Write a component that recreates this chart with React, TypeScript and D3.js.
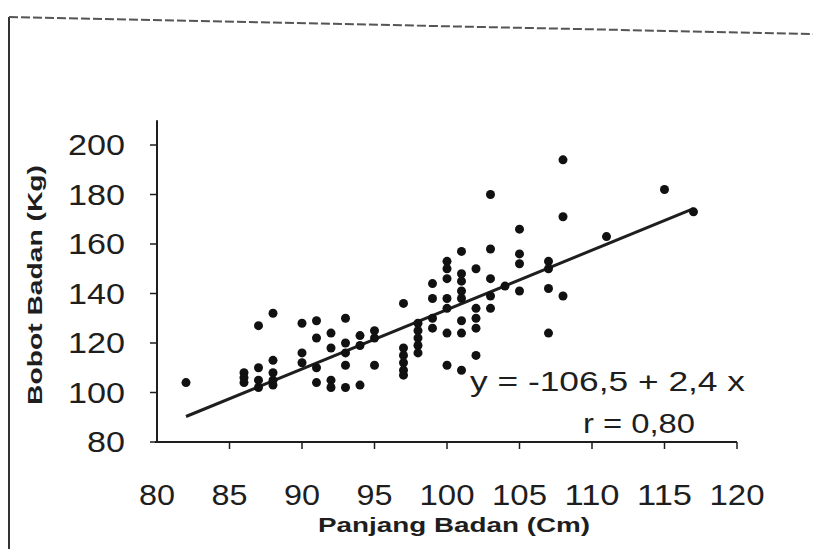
import React, { useEffect, useRef } from 'react';
import * as d3 from 'd3';

// panjang badan (cm) and bobot badan (kg)
const panjang = [
  82,
  86, 86, 86,
  87, 87, 87, 87,
  88, 88, 88, 88, 88,
  90, 90, 90,
  91, 91, 91, 91,
  92, 92, 92, 92,
  93, 93, 93, 93, 93,
  94, 94, 94,
  95, 95, 95,
  97, 97, 97, 97, 97, 97,
  98, 98, 98, 98, 98,
  99, 99, 99, 99,
  100, 100, 100, 100, 100, 100, 100,
  101, 101, 101, 101, 101, 101, 101, 101,
  102, 102, 102, 102, 102,
  103, 103, 103, 103, 103,
  104,
  105, 105, 105, 105,
  107, 107, 107, 107,
  108, 108, 108,
  111, 115, 117,
];
const bobot = [
  104,
  108, 106, 104,
  127, 110, 105, 102,
  132, 113, 108, 105, 103,
  128, 116, 112,
  129, 122, 110, 104,
  124, 118, 105, 102,
  130, 120, 116, 111, 102,
  123, 119, 103,
  125, 122, 111,
  136, 118, 115, 112, 109, 107,
  128, 125, 122, 119, 116,
  144, 138, 130, 126,
  153, 150, 146, 138, 134, 124, 111,
  157, 148, 145, 141, 138, 129, 124, 109,
  150, 134, 130, 126, 115,
  180, 158, 146, 139, 134,
  143,
  166, 156, 152, 141,
  153, 150, 142, 124,
  194, 171, 139,
  163, 182, 173,
];

const xTicks = [80, 85, 90, 95, 100, 105, 110, 115, 120];
const yTicks = [80, 100, 120, 140, 160, 180, 200];
const regA = -106.5;
const regB = 2.4;
const regRange = [82, 117];

const App = () => {
  const ref = useRef<SVGSVGElement>(null);

  useEffect(() => {
    const svg = d3.select(ref.current);
    svg.selectAll('*').remove();

    const font = '"Liberation Sans", Arial, sans-serif';
    const ink = '#1e1e1e';
    // the scan is stretched sideways, so text gets a fixed width per digit
    const digitW = 19;

    const x = d3.scaleLinear().domain([80, 120]).range([157, 737]);
    const y = d3.scaleLinear().domain([80, 200]).range([442, 145]);

    // scan frame
    svg.append('line')
      .attr('x1', 9).attr('y1', 17).attr('x2', 9).attr('y2', 549)
      .attr('stroke', '#333').attr('stroke-width', 2);
    svg.append('line')
      .attr('x1', 9).attr('y1', 17).attr('x2', 813).attr('y2', 34)
      .attr('stroke', '#555').attr('stroke-width', 2)
      .attr('stroke-dasharray', '9 3');

    // axes
    svg.append('line')
      .attr('x1', x(80)).attr('x2', x(80))
      .attr('y1', y(210)).attr('y2', y(80))
      .attr('stroke', ink).attr('stroke-width', 2);
    svg.append('line')
      .attr('x1', x(80) - 2).attr('x2', x(120))
      .attr('y1', y(80)).attr('y2', y(80))
      .attr('stroke', ink).attr('stroke-width', 2);

    svg.selectAll('.ytick')
      .data(yTicks)
      .enter()
      .append('line')
      .attr('x1', x(80) - 7).attr('x2', x(80))
      .attr('y1', (d) => y(d)).attr('y2', (d) => y(d))
      .attr('stroke', ink).attr('stroke-width', 1.5);

    svg.selectAll('.xtick')
      .data(xTicks.slice(1))
      .enter()
      .append('line')
      .attr('x1', (d) => x(d)).attr('x2', (d) => x(d))
      .attr('y1', y(80)).attr('y2', y(80) + 7)
      .attr('stroke', ink).attr('stroke-width', 1.5);

    svg.selectAll('.ylab')
      .data(yTicks)
      .enter()
      .append('text')
      .attr('x', 125)
      .attr('y', (d) => y(d) + 10)
      .attr('text-anchor', 'end')
      .attr('font-family', font)
      .attr('font-size', 29)
      .attr('textLength', (d) => String(d).length * digitW)
      .attr('lengthAdjust', 'spacingAndGlyphs')
      .attr('fill', ink)
      .text((d) => d);

    svg.selectAll('.xlab')
      .data(xTicks)
      .enter()
      .append('text')
      .attr('x', (d) => x(d))
      .attr('y', 505)
      .attr('text-anchor', 'middle')
      .attr('font-family', font)
      .attr('font-size', 29)
      .attr('textLength', (d) => String(d).length * digitW - 2)
      .attr('lengthAdjust', 'spacingAndGlyphs')
      .attr('fill', ink)
      .text((d) => d);

    svg.append('text')
      .attr('x', 318).attr('y', 532)
      .attr('font-family', font)
      .attr('font-weight', 'bold')
      .attr('font-size', 21)
      .attr('textLength', 272)
      .attr('lengthAdjust', 'spacingAndGlyphs')
      .attr('fill', ink)
      .text('Panjang Badan (Cm)');

    svg.append('text')
      .attr('transform', 'translate(42,405) rotate(-90)')
      .attr('font-family', font)
      .attr('font-weight', 'bold')
      .attr('font-size', 20)
      .attr('textLength', 240)
      .attr('lengthAdjust', 'spacingAndGlyphs')
      .attr('fill', ink)
      .text('Bobot Badan (Kg)');

    // regression line
    svg.append('line')
      .attr('x1', x(regRange[0])).attr('y1', y(regA + regB * regRange[0]))
      .attr('x2', x(regRange[1])).attr('y2', y(regA + regB * regRange[1]))
      .attr('stroke', ink).attr('stroke-width', 3);

    svg.selectAll('circle')
      .data(panjang)
      .enter()
      .append('circle')
      .attr('cx', (d) => x(d))
      .attr('cy', (d, i) => y(bobot[i]))
      .attr('r', 4.5)
      .attr('fill', '#111');

    svg.append('text')
      .attr('x', 470).attr('y', 391)
      .attr('font-family', font)
      .attr('font-size', 27)
      .attr('textLength', 275)
      .attr('lengthAdjust', 'spacingAndGlyphs')
      .attr('fill', ink)
      .text('y = -106,5 + 2,4 x');

    svg.append('text')
      .attr('x', 583).attr('y', 433)
      .attr('font-family', font)
      .attr('font-size', 27)
      .attr('textLength', 112)
      .attr('lengthAdjust', 'spacingAndGlyphs')
      .attr('fill', ink)
      .text('r = 0,80');
  }, []);

  return (
    <svg
      ref={ref}
      width={813}
      height={549}
      style={{ position: 'absolute', left: 0, top: 0, background: '#fff' }}
    />
  );
};

export default App;
